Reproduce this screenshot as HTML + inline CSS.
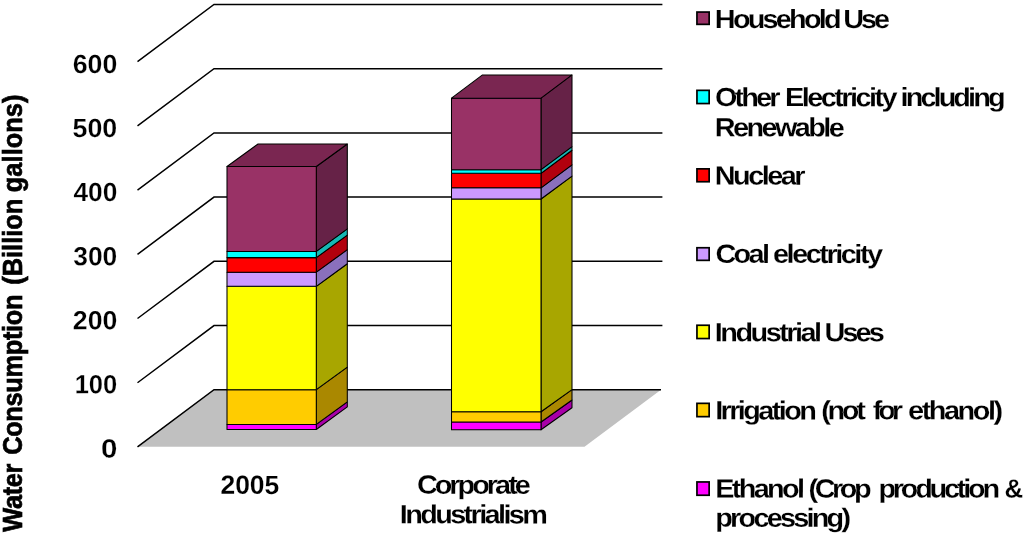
<!DOCTYPE html>
<html><head><meta charset="utf-8"><title>Water Consumption</title>
<style>html,body{margin:0;padding:0;background:#fff;}body{width:1024px;height:536px;overflow:hidden;font-family:"Liberation Sans",sans-serif;}svg{display:block;}text{font-family:"Liberation Sans",sans-serif;fill:#000;font-weight:bold;}</style>
</head><body>
<svg width="1024" height="536" viewBox="0 0 1024 536">
<rect x="0" y="0" width="1024" height="536" fill="#ffffff"/>
<defs><filter id="cb" x="-2%" y="-2%" width="104%" height="104%"><feGaussianBlur stdDeviation="0.4"/></filter></defs>
<g filter="url(#cb)">
<polygon points="137.5,446.7 214.0,389.7 661.0,389.7 584.5,446.7" fill="#c0c0c0"/>
<polyline points="137.5,61.70 214.0,4.5 662.4,4.5" fill="none" stroke="#000" stroke-width="1.5" stroke-linejoin="miter"/>
<polyline points="137.5,125.90 214.0,68.7 662.4,68.7" fill="none" stroke="#000" stroke-width="1.5" stroke-linejoin="miter"/>
<polyline points="137.5,190.10 214.0,132.9 662.4,132.9" fill="none" stroke="#000" stroke-width="1.5" stroke-linejoin="miter"/>
<polyline points="137.5,254.30 214.0,197.1 662.4,197.1" fill="none" stroke="#000" stroke-width="1.5" stroke-linejoin="miter"/>
<polyline points="137.5,318.50 214.0,261.3 662.4,261.3" fill="none" stroke="#000" stroke-width="1.5" stroke-linejoin="miter"/>
<polyline points="137.5,382.75 214.0,325.55 662.4,325.55" fill="none" stroke="#000" stroke-width="1.5" stroke-linejoin="miter"/>
<polyline points="137.5,446.90 214.0,389.7 661.0,389.7" fill="none" stroke="#000" stroke-width="1.5" stroke-linejoin="miter"/>
<polygon points="316.3,429.5 347.3,406.90 347.3,401.80 316.3,424.4" fill="#a800a8" stroke="#000" stroke-width="1.05" stroke-linejoin="round"/>
<polygon points="316.3,424.4 347.3,401.80 347.3,367.12 316.3,389.7" fill="#aa8800" stroke="#000" stroke-width="1.05" stroke-linejoin="round"/>
<polygon points="316.3,389.7 347.3,367.12 347.3,263.75 316.3,286.3" fill="#a8a600" stroke="#000" stroke-width="1.05" stroke-linejoin="round"/>
<polygon points="316.3,286.3 347.3,263.75 347.3,249.66 316.3,272.2" fill="#8a70bc" stroke="#000" stroke-width="1.05" stroke-linejoin="round"/>
<polygon points="316.3,272.2 347.3,249.66 347.3,235.07 316.3,257.6" fill="#b2000a" stroke="#000" stroke-width="1.05" stroke-linejoin="round"/>
<polygon points="316.3,257.6 347.3,235.07 347.3,228.87 316.3,251.4" fill="#16b8b4" stroke="#000" stroke-width="1.05" stroke-linejoin="round"/>
<polygon points="316.3,251.4 347.3,228.87 347.3,144.00 316.3,166.5" fill="#662446" stroke="#000" stroke-width="1.05" stroke-linejoin="round"/>
<rect x="227.0" y="424.4" width="89.30" height="5.10" fill="#ff00ff" stroke="#000" stroke-width="1.05" stroke-linejoin="round"/>
<rect x="227.0" y="389.7" width="89.30" height="34.70" fill="#ffcc00" stroke="#000" stroke-width="1.05" stroke-linejoin="round"/>
<rect x="227.0" y="286.3" width="89.30" height="103.40" fill="#ffff00" stroke="#000" stroke-width="1.05" stroke-linejoin="round"/>
<rect x="227.0" y="272.2" width="89.30" height="14.10" fill="#cc99ff" stroke="#000" stroke-width="1.05" stroke-linejoin="round"/>
<rect x="227.0" y="257.6" width="89.30" height="14.60" fill="#ff0000" stroke="#000" stroke-width="1.05" stroke-linejoin="round"/>
<rect x="227.0" y="251.4" width="89.30" height="6.20" fill="#00ffff" stroke="#000" stroke-width="1.05" stroke-linejoin="round"/>
<rect x="227.0" y="166.5" width="89.30" height="84.90" fill="#993366" stroke="#000" stroke-width="1.05" stroke-linejoin="round"/>
<polygon points="227.0,166.5 258.0,144.00 347.3,144.00 316.3,166.5" fill="#7a2851" stroke="#000" stroke-width="1.05" stroke-linejoin="round"/>
<polygon points="541.0,429.7 572.0,407.70 572.0,399.97 541.0,422.0" fill="#a800a8" stroke="#000" stroke-width="1.05" stroke-linejoin="round"/>
<polygon points="541.0,422.0 572.0,399.97 572.0,389.63 541.0,411.7" fill="#aa8800" stroke="#000" stroke-width="1.05" stroke-linejoin="round"/>
<polygon points="541.0,411.7 572.0,389.63 572.0,176.10 541.0,199.0" fill="#a8a600" stroke="#000" stroke-width="1.05" stroke-linejoin="round"/>
<polygon points="541.0,199.0 572.0,176.10 572.0,164.85 541.0,187.8" fill="#8a70bc" stroke="#000" stroke-width="1.05" stroke-linejoin="round"/>
<polygon points="541.0,187.8 572.0,164.85 572.0,150.29 541.0,173.3" fill="#b2000a" stroke="#000" stroke-width="1.05" stroke-linejoin="round"/>
<polygon points="541.0,173.3 572.0,150.29 572.0,146.68 541.0,169.7" fill="#16b8b4" stroke="#000" stroke-width="1.05" stroke-linejoin="round"/>
<polygon points="541.0,169.7 572.0,146.68 572.0,74.90 541.0,98.2" fill="#662446" stroke="#000" stroke-width="1.05" stroke-linejoin="round"/>
<rect x="451.5" y="422.0" width="89.50" height="7.70" fill="#ff00ff" stroke="#000" stroke-width="1.05" stroke-linejoin="round"/>
<rect x="451.5" y="411.7" width="89.50" height="10.30" fill="#ffcc00" stroke="#000" stroke-width="1.05" stroke-linejoin="round"/>
<rect x="451.5" y="199.0" width="89.50" height="212.70" fill="#ffff00" stroke="#000" stroke-width="1.05" stroke-linejoin="round"/>
<rect x="451.5" y="187.8" width="89.50" height="11.20" fill="#cc99ff" stroke="#000" stroke-width="1.05" stroke-linejoin="round"/>
<rect x="451.5" y="173.3" width="89.50" height="14.50" fill="#ff0000" stroke="#000" stroke-width="1.05" stroke-linejoin="round"/>
<rect x="451.5" y="169.7" width="89.50" height="3.60" fill="#00ffff" stroke="#000" stroke-width="1.05" stroke-linejoin="round"/>
<rect x="451.5" y="98.2" width="89.50" height="71.50" fill="#993366" stroke="#000" stroke-width="1.05" stroke-linejoin="round"/>
<polygon points="451.5,98.2 482.5,74.90 572.0,74.90 541.0,98.2" fill="#7a2851" stroke="#000" stroke-width="1.05" stroke-linejoin="round"/>
<rect x="696.95" y="12.05" width="12.20" height="12.30" fill="#993366" stroke="#000" stroke-width="1.7"/>
<rect x="696.95" y="90.35" width="12.20" height="13.20" fill="#00ffff" stroke="#000" stroke-width="1.7"/>
<rect x="696.95" y="168.85" width="12.20" height="12.90" fill="#ff0000" stroke="#000" stroke-width="1.7"/>
<rect x="696.95" y="247.75" width="12.20" height="12.60" fill="#cc99ff" stroke="#000" stroke-width="1.7"/>
<rect x="696.95" y="325.25" width="12.20" height="13.30" fill="#ffff00" stroke="#000" stroke-width="1.7"/>
<rect x="696.95" y="403.35" width="12.20" height="13.30" fill="#ffcc00" stroke="#000" stroke-width="1.7"/>
<rect x="696.95" y="481.95" width="12.20" height="13.30" fill="#ff00ff" stroke="#000" stroke-width="1.7"/>
</g>
<defs><filter id="tb" x="-5%" y="-5%" width="110%" height="110%"><feGaussianBlur stdDeviation="0.45"/></filter></defs>
<g filter="url(#tb)">
<text transform="translate(72.78,72.90) rotate(0.1) scale(1.0179,1)" font-size="26.2" stroke="#fff" stroke-width="0.2">600</text>
<text transform="translate(72.60,136.98) rotate(0.1) scale(1.0220,1)" font-size="26.2" stroke="#fff" stroke-width="0.2">500</text>
<text transform="translate(73.47,201.06) rotate(0.1) scale(1.0017,1)" font-size="26.2" stroke="#fff" stroke-width="0.2">400</text>
<text transform="translate(73.24,265.14) rotate(0.1) scale(1.0070,1)" font-size="26.2" stroke="#fff" stroke-width="0.2">300</text>
<text transform="translate(72.83,329.22) rotate(0.1) scale(1.0167,1)" font-size="26.2" stroke="#fff" stroke-width="0.2">200</text>
<text transform="translate(74.68,393.30) rotate(0.1) scale(0.9732,1)" font-size="26.2" stroke="#fff" stroke-width="0.2">100</text>
<text transform="translate(100.99,457.38) rotate(0.1) scale(1.1230,1)" font-size="26.2" stroke="#fff" stroke-width="0.2">0</text>
<text transform="translate(220.48,493.80) rotate(0.1) scale(1.0088,1)" font-size="26.2" stroke="#fff" stroke-width="0.15">2005</text>
<text transform="translate(416.90,493.60) rotate(0.1) scale(1.1000,1)" font-size="26.2" letter-spacing="-2.700" stroke="#fff" stroke-width="0.15">Corporate</text>
<text transform="translate(399.84,523.20) rotate(0.1) scale(1.1000,1)" font-size="26.2" letter-spacing="-2.371" stroke="#fff" stroke-width="0.15">Industrialism</text>
<text transform="translate(714.84,27.90) rotate(0.1) scale(1.1000,1)" font-size="26.2" letter-spacing="-2.515" stroke="#fff" stroke-width="0.15">Household</text>
<text transform="translate(843.22,27.90) rotate(0.1) scale(1.1000,1)" font-size="26.2" letter-spacing="-2.786" stroke="#fff" stroke-width="0.15">Use</text>
<text transform="translate(715.00,106.10) rotate(0.1) scale(1.1000,1)" font-size="26.2" letter-spacing="-2.571" stroke="#fff" stroke-width="0.15">Other</text>
<text transform="translate(784.94,106.10) rotate(0.1) scale(1.1000,1)" font-size="26.2" letter-spacing="-2.284" stroke="#fff" stroke-width="0.15">Electricity</text>
<text transform="translate(900.56,106.10) rotate(0.1) scale(1.1000,1)" font-size="26.2" letter-spacing="-2.621" stroke="#fff" stroke-width="0.15">including</text>
<text transform="translate(714.74,136.20) rotate(0.1) scale(1.1000,1)" font-size="26.2" letter-spacing="-2.321" stroke="#fff" stroke-width="0.15">Renewable</text>
<text transform="translate(714.74,184.50) rotate(0.1) scale(1.1000,1)" font-size="26.2" letter-spacing="-2.281" stroke="#fff" stroke-width="0.15">Nuclear</text>
<text transform="translate(715.50,262.80) rotate(0.1) scale(1.1000,1)" font-size="26.2" letter-spacing="-2.437" stroke="#fff" stroke-width="0.15">Coal</text>
<text transform="translate(773.04,262.80) rotate(0.1) scale(1.1000,1)" font-size="26.2" letter-spacing="-2.226" stroke="#fff" stroke-width="0.15">electricity</text>
<text transform="translate(714.74,341.20) rotate(0.1) scale(1.1000,1)" font-size="26.2" letter-spacing="-2.251" stroke="#fff" stroke-width="0.15">Industrial</text>
<text transform="translate(824.42,341.20) rotate(0.1) scale(1.1000,1)" font-size="26.2" letter-spacing="-2.585" stroke="#fff" stroke-width="0.15">Uses</text>
<text transform="translate(715.14,419.30) rotate(0.1) scale(1.1000,1)" font-size="26.2" letter-spacing="-2.346" stroke="#fff" stroke-width="0.15">Irrigation</text>
<text transform="translate(821.33,419.30) rotate(0.1) scale(1.1000,1)" font-size="26.2" letter-spacing="-3.026" stroke="#fff" stroke-width="0.15">(not</text>
<text transform="translate(872.79,419.30) rotate(0.1) scale(1.1000,1)" font-size="26.2" letter-spacing="-3.796" stroke="#fff" stroke-width="0.15">for</text>
<text transform="translate(908.04,419.30) rotate(0.1) scale(1.1000,1)" font-size="26.2" letter-spacing="-2.198" stroke="#fff" stroke-width="0.15">ethanol)</text>
<text transform="translate(715.24,497.40) rotate(0.1) scale(1.1000,1)" font-size="26.2" letter-spacing="-2.422" stroke="#fff" stroke-width="0.15">Ethanol</text>
<text transform="translate(808.53,497.40) rotate(0.1) scale(1.1000,1)" font-size="26.2" letter-spacing="-3.140" stroke="#fff" stroke-width="0.15">(Crop</text>
<text transform="translate(878.44,497.40) rotate(0.1) scale(1.1000,1)" font-size="26.2" letter-spacing="-2.917" stroke="#fff" stroke-width="0.15">production</text>
<text transform="translate(1004.47,497.40) rotate(0.1) scale(0.9863,1)" font-size="26.2" stroke="#fff" stroke-width="0.15">&amp;</text>
<text transform="translate(715.24,526.60) rotate(0.1) scale(1.1000,1)" font-size="26.2" letter-spacing="-2.500" stroke="#fff" stroke-width="0.15">processing)</text>
<text transform="translate(21.7,531.73) rotate(-90) scale(1,1.09)" font-size="25.4" letter-spacing="-0.338" stroke="#000" stroke-width="0.65">Water</text>
<text transform="translate(21.7,454.82) rotate(-90) scale(1,1.09)" font-size="25.4" letter-spacing="-0.330" stroke="#000" stroke-width="0.65">Consumption</text>
<text transform="translate(21.7,284.75) rotate(-90) scale(1,1.09)" font-size="25.4" letter-spacing="0.006" stroke="#000" stroke-width="0.65">(Billion</text>
<text transform="translate(21.7,192.22) rotate(-90) scale(1,1.09)" font-size="25.4" letter-spacing="0.060" stroke="#000" stroke-width="0.65">gallons)</text>
</g>
</svg></body></html>
